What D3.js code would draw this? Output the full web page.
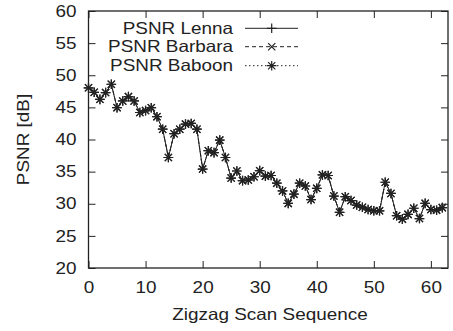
<!DOCTYPE html>
<html><head><meta charset="utf-8">
<script src="https://cdn.jsdelivr.net/npm/d3@7"></script>
<style>body{margin:0;background:#fff}svg{display:block}text{font-family:"Liberation Sans",Arial,sans-serif;fill:#222}</style>
</head><body><svg id="c" width="453" height="331"></svg>
<script>
const seriesNames = ["PSNR Lenna", "PSNR Barbara", "PSNR Baboon"];
const psnrLenna = [48.05,47.35,46.25,47.3,48.6,44.95,46.0,46.67,46.0,44.2,44.5,44.95,43.55,41.6,37.2,40.9,41.6,42.4,42.5,41.6,35.4,38.26,37.95,39.9,37.2,34.0,35.1,33.6,33.7,34.2,35.15,34.3,34.4,33.2,32.0,30.06,31.5,33.2,32.76,30.65,32.4,34.5,34.4,31.2,28.67,31.1,30.5,29.8,29.45,29.1,28.9,28.9,33.35,31.6,28.14,27.6,28.35,29.3,27.7,30.06,29.1,29.0,29.4];
const psnrBarbara = [48.05,47.35,46.25,47.3,48.6,44.95,46.0,46.67,46.0,44.2,44.5,44.95,43.55,41.6,37.2,40.9,41.6,42.4,42.5,41.6,35.4,38.26,37.95,39.9,37.2,34.0,35.1,33.6,33.7,34.2,35.15,34.3,34.4,33.2,32.0,30.06,31.5,33.2,32.76,30.65,32.4,34.5,34.4,31.2,28.67,31.1,30.5,29.8,29.45,29.1,28.9,28.9,33.35,31.6,28.14,27.6,28.35,29.3,27.7,30.06,29.1,29.0,29.4];
const psnrBaboon = [48.05,47.35,46.25,47.3,48.6,44.95,46.0,46.67,46.0,44.2,44.5,44.95,43.55,41.6,37.2,40.9,41.6,42.4,42.5,41.6,35.4,38.26,37.95,39.9,37.2,34.0,35.1,33.6,33.7,34.2,35.15,34.3,34.4,33.2,32.0,30.06,31.5,33.2,32.76,30.65,32.4,34.5,34.4,31.2,28.67,31.1,30.5,29.8,29.45,29.1,28.9,28.9,33.35,31.6,28.14,27.6,28.35,29.3,27.7,30.06,29.1,29.0,29.4];
const xTicks = [0,10,20,30,40,50,60];
const yTicks = [20,25,30,35,40,45,50,55,60];
const xLabel = "Zigzag Scan Sequence";
const yLabel = "PSNR [dB]";

const svg = d3.select("#c");
const L = 88.5, R = 448, T = 11, B = 268;
const x = d3.scaleLinear().domain([0,63]).range([L,R]);
const y = d3.scaleLinear().domain([20,60]).range([B,T]);
const col = "#222";
const FS = 16.3;

svg.append("g").attr("transform",`translate(0,${B})`)
  .call(d3.axisBottom(x).tickValues(xTicks).tickSize(-7).tickPadding(13).tickFormat(d3.format("d")))
  .call(g=>{g.selectAll("line").attr("stroke",col);g.selectAll("text").attr("font-size",FS).attr("fill",col);});
svg.append("g").attr("transform",`translate(0,${T})`)
  .call(d3.axisTop(x).tickValues(xTicks).tickSize(-7).tickFormat(""))
  .call(g=>g.selectAll("line").attr("stroke",col));
svg.append("g").attr("transform",`translate(${L},0)`)
  .call(d3.axisLeft(y).tickValues(yTicks).tickSize(-7).tickPadding(12).tickFormat(d3.format("d")))
  .call(g=>{g.selectAll("line").attr("stroke",col);g.selectAll("text").attr("font-size",FS).attr("fill",col);});
svg.append("g").attr("transform",`translate(${R},0)`)
  .call(d3.axisRight(y).tickValues(yTicks).tickSize(-7).tickFormat(""))
  .call(g=>g.selectAll("line").attr("stroke",col));
svg.selectAll(".domain").remove();
svg.selectAll(".tick text").attr("font-family","Liberation Sans, Arial, sans-serif");
svg.append("rect").attr("x",L).attr("y",T).attr("width",R-L).attr("height",B-T)
  .attr("fill","none").attr("stroke",col).attr("stroke-width",1.3);

svg.append("text").attr("x",270).attr("y",320).attr("text-anchor","middle").attr("font-size",FS).text(xLabel);
svg.append("text").attr("transform",`translate(29,${(T+B)/2}) rotate(-90)`).attr("text-anchor","middle").attr("font-size",FS).text(yLabel);

const S = 4.8;
function marker(g, type, cx, cy){
  const p = d3.path();
  if(type===0||type===2){p.moveTo(cx-S,cy);p.lineTo(cx+S,cy);p.moveTo(cx,cy-S);p.lineTo(cx,cy+S);}
  if(type===1||type===2){const d=S*0.75;p.moveTo(cx-d,cy-d);p.lineTo(cx+d,cy+d);p.moveTo(cx-d,cy+d);p.lineTo(cx+d,cy-d);}
  g.append("path").attr("d",p.toString()).attr("stroke",col).attr("stroke-width",1.2).attr("fill","none");
}
const dashes = [null,"4,3","1.5,2.5"];
const allData = [psnrLenna, psnrBarbara, psnrBaboon];
const line = d3.line().x((d,i)=>x(i)).y(d=>y(d));
allData.forEach((data,k)=>{
  const g = svg.append("g");
  g.append("path").datum(data).attr("d",line).attr("fill","none").attr("stroke",col).attr("stroke-width",1)
   .attr("stroke-dasharray",dashes[k]);
  data.forEach((v,i)=>marker(g,k,x(i),y(v)));
});

// legend
const legY = [28.3,46.7,65.7];
seriesNames.forEach((n,k)=>{
  svg.append("text").attr("x",233).attr("y",legY[k]).attr("dy","0.35em").attr("text-anchor","end").attr("font-size",FS).text(n);
  const g = svg.append("g");
  g.append("line").attr("x1",245).attr("x2",298).attr("y1",legY[k]).attr("y2",legY[k]).attr("stroke",col).attr("stroke-width",1).attr("stroke-dasharray",dashes[k]);
  marker(g,k,271.7,legY[k]);
});

// horizontal glyph stretch (reference font is wider than Arial)
svg.selectAll("text").each(function(){
  const t = d3.select(this);
  if(!t.text()) return;
  const ax = +t.attr("x") || 0;
  const tr = t.attr("transform") || "";
  t.attr("transform", `${tr} translate(${ax},0) scale(1.16,1) translate(${-ax},0)`);
});
</script></body></html>
